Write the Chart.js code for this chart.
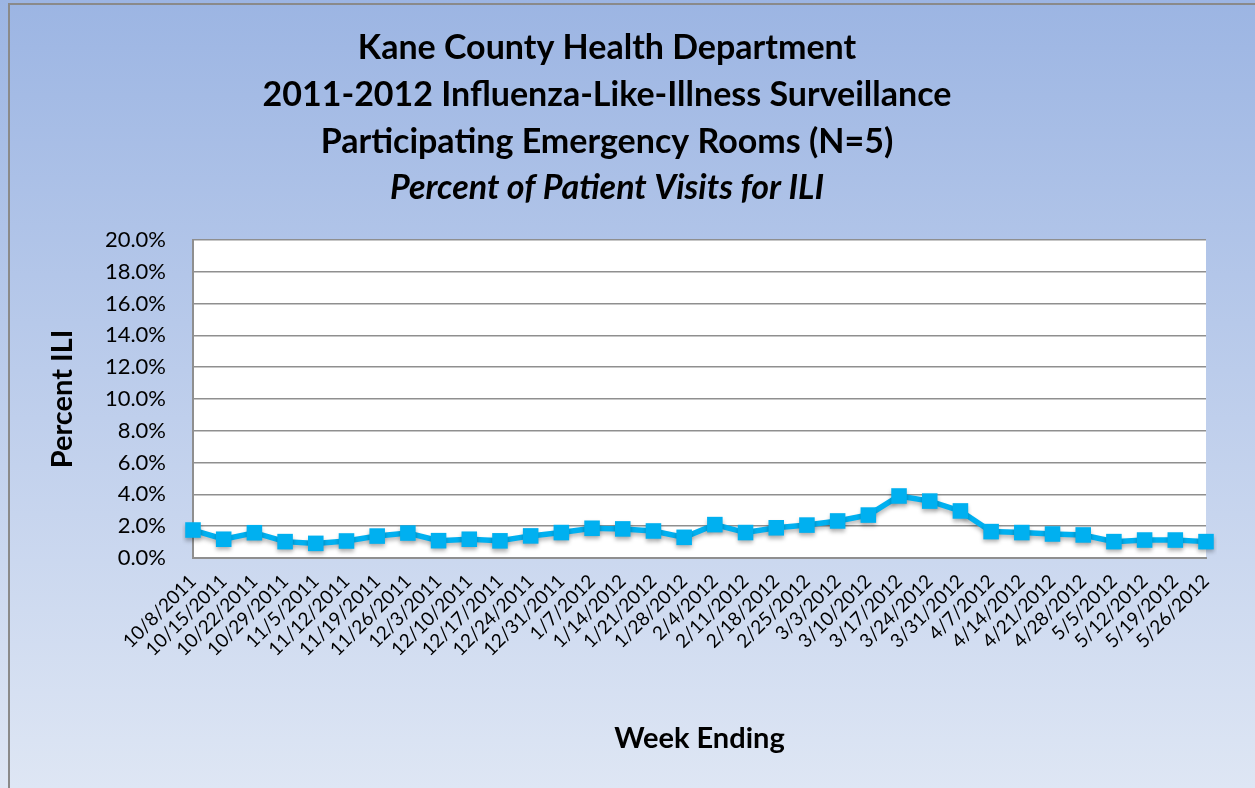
<!DOCTYPE html>
<html>
<head>
<meta charset="utf-8">
<script src="https://cdn.jsdelivr.net/npm/chart.js@4"></script>
<style>
  html, body { margin: 0; padding: 0; background: #fff; }
  #wrap { width: 1255px; height: 788px; }
</style>
</head>
<body>
<div id="wrap"><canvas id="chart-ili" width="1255" height="788"></canvas></div>
<script>
// semanas (fim de semana epidemiológica)
const WEEKS = ['10/8/2011', '10/15/2011', '10/22/2011', '10/29/2011', '11/5/2011', '11/12/2011',
    '11/19/2011', '11/26/2011', '12/3/2011', '12/10/2011', '12/17/2011', '12/24/2011', '12/31/2011',
    '1/7/2012', '1/14/2012', '1/21/2012', '1/28/2012', '2/4/2012', '2/11/2012', '2/18/2012',
    '2/25/2012', '3/3/2012', '3/10/2012', '3/17/2012', '3/24/2012', '3/31/2012', '4/7/2012',
    '4/14/2012', '4/21/2012', '4/28/2012', '5/5/2012', '5/12/2012', '5/19/2012', '5/26/2012'];

// % de visitas por ILI
const ILI_PCT = [1.76, 1.18, 1.59, 1.03, 0.92, 1.07, 1.38, 1.57, 1.09, 1.18, 1.08, 1.39, 1.6,
    1.87, 1.83, 1.7, 1.3, 2.1, 1.6, 1.9, 2.07, 2.33, 2.7, 3.9, 3.58, 2.96, 1.66,
    1.6, 1.51, 1.45, 1.03, 1.13, 1.13, 1.03];

const TITLE_LINES = ['Kane County Health Department',
    '2011-2012 Influenza-Like-Illness Surveillance',
    'Participating Emergency Rooms (N=5)'];
const SUBTITLE = 'Percent of Patient Visits for ILI';

const Y_MAX = 20;
const Y_STEP = 2;

const COR = {
    line: '#00b0f0',
    grid: '#8f8f8f',
    bgTop: '#9cb5e3',
    bgBottom: '#dee6f4',
    border: '#8a8a8a',
    text: '#000000',
};
const FONT = 'Lato, "Open Sans", sans-serif';

/* fundo em degradê + área de plotagem branca */
const fundo = {
    id: 'fundo',
    beforeDraw(chart) {
        const { ctx, width, height, chartArea: a } = chart;
        ctx.save();
        const g = ctx.createLinearGradient(0, 0, 0, height);
        g.addColorStop(0, COR.bgTop);
        g.addColorStop(1, COR.bgBottom);
        ctx.fillStyle = g;
        ctx.fillRect(0, 0, width, height);
        ctx.strokeStyle = COR.border;
        ctx.lineWidth = 2;
        ctx.beginPath();
        ctx.moveTo(9, height);
        ctx.lineTo(9, 4);
        ctx.lineTo(width, 4);
        ctx.stroke();
        ctx.fillStyle = '#ffffff';
        ctx.fillRect(a.left, a.top, a.right - a.left, a.bottom - a.top);
        ctx.restore();
    },
    beforeDatasetsDraw(chart) {
        const ctx = chart.ctx;
        ctx.save();
        ctx.shadowColor = 'rgba(0,0,0,0.28)';
        ctx.shadowBlur = 4;
        ctx.shadowOffsetY = 3;
    },
    afterDatasetsDraw(chart) {
        chart.ctx.restore();
    }
};

new Chart(document.getElementById('chart-ili'), {
    type: 'line',
    data: {
        labels: WEEKS,
        datasets: [{
            label: 'Percent ILI',
            data: ILI_PCT,
            borderColor: COR.line,
            backgroundColor: COR.line,
            borderWidth: 5.5,
            pointStyle: 'rect',
            pointRadius: 11,
            pointBorderWidth: 0,
            tension: 0,
        }]
    },
    options: {
        responsive: false,
        animation: false,
        devicePixelRatio: 1,
        layout: { padding: { left: 8, right: 49, top: 4, bottom: 0 } },
        plugins: {
            legend: { display: false },
            tooltip: { enabled: false },
            title: {
                display: true,
                text: TITLE_LINES,
                color: COR.text,
                font: { family: FONT, size: 34, weight: 'bold', lineHeight: 47 / 34 },
                padding: { top: 21, bottom: 0 },
            },
            subtitle: {
                display: true,
                text: SUBTITLE,
                color: COR.text,
                font: { family: FONT, size: 34, weight: 'bold', style: 'italic', lineHeight: 44 / 34 },
                padding: { top: 0, bottom: 30 },
            }
        },
        scales: {
            x: {
                offset: false,
                grid: { display: false, drawTicks: false },
                border: { color: COR.grid, width: 2 },
                ticks: {
                    autoSkip: false,
                    maxRotation: 45,
                    minRotation: 45,
                    padding: 12,
                    color: COR.text,
                    font: { family: FONT, size: 19 },
                },
                title: {
                    display: true,
                    text: 'Week Ending',
                    color: COR.text,
                    font: { family: FONT, size: 29, weight: 'bold' },
                    padding: { top: 0, bottom: 32 },
                },
                afterFit: scale => { scale.height = 230; },
            },
            y: {
                min: 0,
                max: Y_MAX,
                grid: { color: COR.grid, lineWidth: 1.5, drawTicks: false },
                border: { color: COR.grid, width: 2 },
                ticks: {
                    stepSize: Y_STEP,
                    padding: 27,
                    color: COR.text,
                    font: { family: FONT, size: 22 },
                    callback: v => v.toFixed(1) + '%',
                },
                title: {
                    display: true,
                    text: 'Percent ILI',
                    color: COR.text,
                    font: { family: FONT, size: 29, weight: 'bold' },
                    padding: { top: 37, bottom: 0 },
                },
                afterFit: scale => { scale.width = 185; },
            }
        }
    },
    plugins: [fundo]
});
</script>
</body>
</html>
